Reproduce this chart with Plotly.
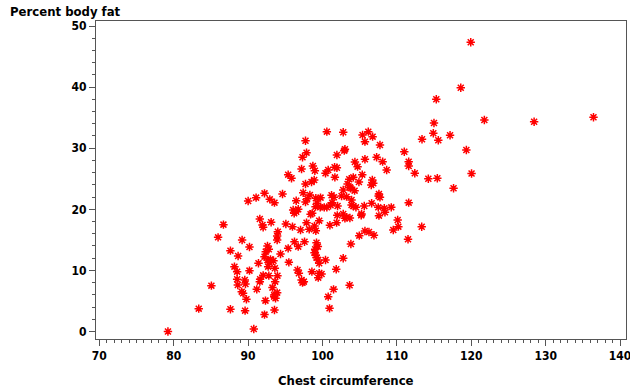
import plotly.graph_objects as go

# Chest circumference (cm) and percent body fat for each man in the sample
chest = [
    100.59, 102.79, 106.16, 105.39, 106.74, 105.71, 97.72, 107.73, 103.02, 102.93,
    111.00, 97.86, 101.94, 97.32, 105.71, 107.28, 108.09, 104.36, 104.72, 111.59,
    111.59, 98.71, 98.98, 97.19, 101.63, 101.94, 100.77, 100.41, 108.63, 95.39,
    95.84, 105.35, 104.14, 101.67, 98.53, 98.89, 97.72, 106.70, 106.83, 106.56,
    103.60, 103.38, 104.90, 103.78, 102.79, 104.32, 97.41, 98.31, 103.69, 92.21,
    94.63, 91.08, 90.01, 92.92, 93.55, 101.22, 101.54, 102.57, 103.24, 107.59,
    107.73, 107.55, 97.95, 97.72, 96.47, 99.11, 99.74, 99.29, 101.31, 103.91,
    99.07, 99.70, 100.24, 100.59, 101.09, 102.03, 103.91, 104.14, 104.50, 105.62,
    106.61, 107.50, 108.31, 109.25, 111.59, 96.06, 96.47, 96.74, 96.20, 98.62,
    98.40, 101.99, 102.79, 105.26, 105.21, 108.40, 107.59, 103.24, 103.69, 103.02,
    101.90, 91.58, 91.94, 92.03, 93.10, 95.08, 95.97, 97.05, 97.86, 98.93,
    99.56, 101.00, 99.11, 98.22, 86.69, 110.11, 110.20, 109.52, 94.00, 93.91,
    93.91, 85.97, 105.71, 104.95, 106.25, 106.92, 89.20, 90.19, 87.63, 92.61,
    92.79, 92.38, 95.39, 96.24, 96.74, 97.59, 99.20, 99.38, 99.02, 98.93,
    99.11, 99.20, 99.43, 99.56, 100.41, 103.82, 111.50, 94.36, 88.66, 91.40,
    92.21, 93.01, 93.42, 92.61, 92.88, 95.48, 102.79, 101.85, 88.17, 88.53,
    90.19, 92.70, 93.60, 96.65, 96.83, 98.58, 99.56, 99.88, 99.43, 88.53,
    89.56, 89.65, 88.62, 91.62, 92.03, 92.79, 93.95, 93.64, 91.58, 97.19,
    97.50, 97.32, 85.07, 91.17, 93.28, 89.15, 89.33, 89.78, 93.91, 93.51,
    93.69, 93.51, 101.49, 100.77, 103.65, 92.34, 83.37, 87.63, 89.60, 92.21,
    93.55, 100.95, 90.77, 79.23, 119.93, 118.59, 115.30, 121.76, 128.45, 136.43,
    114.99, 114.90, 113.38, 115.57, 117.15, 119.34, 112.41, 120.04, 114.23, 115.44,
    117.62, 113.34,
]
body_fat = [
    32.71, 32.60, 32.71, 32.16, 31.89, 31.07, 31.23, 30.52, 29.82, 29.60,
    29.43, 29.27, 28.89, 28.51, 28.18, 28.51, 27.80, 27.74, 26.98, 27.80,
    27.09, 27.09, 26.32, 26.60, 26.87, 26.81, 26.43, 25.89, 26.43, 25.67,
    25.07, 25.67, 25.23, 25.23, 24.47, 24.80, 24.14, 24.80, 24.25, 23.98,
    24.91, 24.14, 24.47, 23.43, 23.16, 23.05, 22.72, 22.34, 23.60, 22.61,
    22.51, 21.91, 21.36, 21.63, 21.09, 22.29, 21.96, 22.18, 22.07, 22.51,
    21.96, 22.18, 21.74, 21.20, 21.41, 21.80, 21.91, 20.98, 21.09, 21.52,
    20.43, 20.32, 20.32, 20.32, 20.65, 20.54, 20.71, 20.54, 20.32, 20.54,
    20.98, 20.32, 20.16, 20.32, 21.09, 19.89, 19.61, 20.00, 19.34, 19.34,
    19.18, 19.01, 19.23, 19.23, 19.01, 19.50, 18.96, 18.69, 18.58, 18.52,
    17.81, 18.41, 17.43, 17.05, 17.87, 17.60, 17.16, 16.61, 17.81, 17.27,
    18.14, 17.38, 16.50, 16.72, 17.49, 18.25, 17.16, 16.61, 16.34, 15.63,
    14.98, 15.41, 16.45, 15.69, 16.29, 15.74, 14.98, 13.83, 13.23, 13.99,
    13.45, 13.07, 13.61, 14.70, 13.89, 14.70, 14.54, 13.89, 13.45, 12.90,
    12.47, 12.09, 11.70, 11.16, 11.70, 14.32, 15.09, 12.69, 12.36, 11.16,
    12.25, 11.81, 11.59, 11.70, 11.27, 11.32, 11.98, 10.18, 10.61, 9.79,
    9.96, 10.61, 10.34, 10.07, 9.52, 9.79, 9.52, 9.41, 8.81, 8.54,
    8.43, 7.78, 7.61, 8.54, 9.19, 9.14, 9.14, 8.16, 8.16, 8.43,
    8.16, 7.99, 7.50, 6.90, 7.18, 6.52, 6.25, 5.27, 6.36, 5.98,
    5.43, 5.70, 6.90, 5.70, 7.56, 5.05, 3.74, 3.63, 3.41, 2.76,
    3.52, 3.79, 0.41, 0.00, 47.33, 39.90, 38.00, 34.62, 34.34, 35.06,
    34.12, 32.44, 31.46, 31.30, 32.13, 29.71, 25.89, 25.86, 24.99, 25.07,
    23.45, 17.15,
]

x_ticks = [70, 80, 90, 100, 110, 120, 130, 140]
y_ticks = [0, 10, 20, 30, 40, 50]

font_family = "Liberation Sans Narrow, Arial Narrow, DejaVu Sans Condensed, sans-serif"
label_font = dict(family=font_family, size=13, color="black", weight=700)
tick_font = dict(family=font_family, size=12, color="black", weight=700)
frame_color = "#555555"

fig = go.Figure(
    go.Scatter(
        x=chest, y=body_fat, mode="markers",
        marker=dict(symbol="asterisk-open", size=7, color="red",
                    line=dict(color="red", width=1.5)),
        hoverinfo="x+y",
    )
)

fig.update_layout(
    template="none",
    width=630, height=391,
    margin=dict(l=96, r=4, t=21, b=52, autoexpand=False),
    paper_bgcolor="white", plot_bgcolor="white",
    showlegend=False,
    font=label_font,
    annotations=[
        dict(text="Percent body fat", xref="paper", yref="paper",
             x=(8 - 96) / 530, y=(339 - 12) / 318, xanchor="left", yanchor="middle",
             showarrow=False, font=label_font),
        dict(text="Chest circumference", xref="paper", yref="paper",
             x=(346 - 96) / 530, y=(339 - 380) / 318, xanchor="center", yanchor="middle",
             showarrow=False, font=label_font),
    ],
)

fig.update_xaxes(
    range=[69.56, 140.8], tickmode="array", tickvals=x_ticks,
    ticktext=[str(v) for v in x_ticks],
    ticks="outside", ticklen=6, tickcolor=frame_color, tickwidth=1,
    minor=dict(dtick=1, tick0=70, ticks="outside", ticklen=3, tickcolor=frame_color),
    showline=True, linecolor=frame_color, linewidth=1, mirror=True,
    showgrid=False, zeroline=False, tickfont=tick_font,
    ticklabeloverflow="allow", automargin=False,
)
fig.update_yaxes(
    range=[-1.23, 50.82], tickmode="array", tickvals=y_ticks,
    ticktext=[str(v) for v in y_ticks],
    ticks="outside", ticklen=6, tickcolor=frame_color, tickwidth=1,
    minor=dict(dtick=2, tick0=0, ticks="outside", ticklen=3, tickcolor=frame_color),
    showline=True, linecolor=frame_color, linewidth=1, mirror=True,
    showgrid=False, zeroline=False, tickfont=tick_font, automargin=False,
)

fig.write_html("out.html")
